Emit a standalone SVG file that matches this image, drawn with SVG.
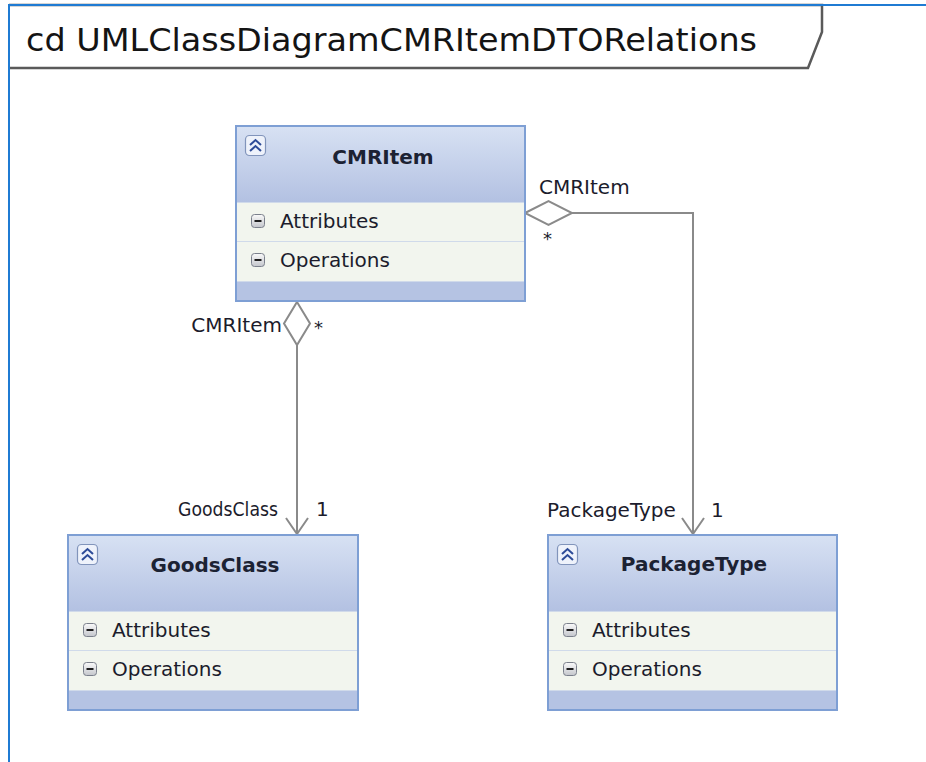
<svg xmlns="http://www.w3.org/2000/svg" width="926" height="762" viewBox="0 0 926 762">
  <defs>
    <linearGradient id="hdr" x1="0" y1="0" x2="0" y2="1">
      <stop offset="0" stop-color="#d7e1f3"/>
      <stop offset="1" stop-color="#b3c1e2"/>
    </linearGradient>
    <linearGradient id="btn" x1="0" y1="0" x2="0" y2="1">
      <stop offset="0" stop-color="#fafafa"/>
      <stop offset="1" stop-color="#c4c6cc"/>
    </linearGradient>
    <!-- class box: compartments, collapse button and section toggles -->
    <g id="classBody">
      <rect class="band" x="1" y="1" width="288" height="173"/>
      <rect class="head" x="1" y="1" width="288" height="75"/>
      <rect class="rows" x="1" y="76" width="288" height="79"/>
      <line class="sep" x1="1" y1="76.5" x2="289" y2="76.5"/>
      <line class="sep" x1="1" y1="115.5" x2="289" y2="115.5"/>
      <line class="sep" x1="1" y1="155.5" x2="289" y2="155.5"/>
      <rect class="collapse" x="9.5" y="9.5" width="20" height="20" rx="4"/>
      <polyline class="chev" points="14,19 19.5,14 25,19"/>
      <polyline class="chev" points="14,25 19.5,20 25,25"/>
      <rect class="toggle" x="15.5" y="88.5" width="13" height="13" rx="3"/>
      <line class="minus" x1="18.5" y1="95" x2="25.5" y2="95"/>
      <rect class="toggle" x="15.5" y="127.5" width="13" height="13" rx="3"/>
      <line class="minus" x1="18.5" y1="134" x2="25.5" y2="134"/>
      <text class="sect" x="44" y="102">Attributes</text>
      <text class="sect" x="44" y="141">Operations</text>
    </g>
  </defs>
  <style>
    .frame { fill: none; stroke: #1f7bd3; stroke-width: 2; }
    .tab { fill: #ffffff; stroke: #5a5a5a; stroke-width: 2.5; }
    .title { font-family: "DejaVu Sans", "Liberation Sans", sans-serif; font-size: 32px; fill: #141414; }
    .outline { fill: none; stroke: #7e9fd4; stroke-width: 2; }
    .band { fill: #b5c3e3; }
    .head { fill: url(#hdr); }
    .rows { fill: #f2f5ee; }
    .sep { stroke: #d0daea; stroke-width: 1; }
    .collapse { fill: #eef2fb; stroke: #8194bb; stroke-width: 1.2; }
    .chev { fill: none; stroke: #2d4b98; stroke-width: 2; }
    .toggle { fill: url(#btn); stroke: #7b808c; stroke-width: 1; }
    .minus { stroke: #1e1e1e; stroke-width: 2; }
    .sect { font-family: "DejaVu Sans", "Liberation Sans", sans-serif; font-size: 20px; fill: #1c1c2c; }
    .cname { font-family: "DejaVu Sans", "Liberation Sans", sans-serif; font-size: 20px; font-weight: bold; fill: #1c2233; text-anchor: middle; }
    .edge { fill: none; stroke: #8a8a8a; stroke-width: 2; }
    .diamond { fill: #ffffff; stroke: #8a8a8a; stroke-width: 2; }
    .lbl { font-family: "DejaVu Sans", "Liberation Sans", sans-serif; font-size: 20px; fill: #1c1c2c; }
    .mult { font-family: "DejaVu Sans", "Liberation Sans", sans-serif; font-size: 18px; fill: #1c1c2c; }
  </style>

  <rect x="0" y="0" width="926" height="762" fill="#ffffff"/>

  <!-- diagram frame and name tab -->
  <g id="frame">
    <path class="tab" d="M9,5 H822 V32 L808,68 H9"/>
    <path class="frame" d="M926,5 H9 V762"/>
    <text class="title" x="26" y="51" textLength="731" lengthAdjust="spacingAndGlyphs">cd UMLClassDiagramCMRItemDTORelations</text>
  </g>

  <!-- connectors -->
  <g id="connectors">
    <!-- CMRItem to GoodsClass -->
    <path class="edge" d="M297,345 V534"/>
    <polygon class="diamond" points="297,302 310,323.5 297,345 284,323.5"/>
    <polyline class="edge" points="286,518 297,534 308,518"/>
    <text class="lbl" x="282" y="332" text-anchor="end">CMRItem</text>
    <text class="mult" x="314" y="334">*</text>
    <text class="lbl" x="178" y="516" textLength="100" lengthAdjust="spacingAndGlyphs">GoodsClass</text>
    <text class="lbl" x="316" y="516">1</text>

    <!-- CMRItem to PackageType -->
    <path class="edge" d="M572,213 H693 V534"/>
    <polygon class="diamond" points="525,213 548.5,201 572,213 548.5,225"/>
    <polyline class="edge" points="682,518 693,534 704,518"/>
    <text class="lbl" x="539" y="194">CMRItem</text>
    <text class="mult" x="543" y="245">*</text>
    <text class="lbl" x="547" y="517">PackageType</text>
    <text class="lbl" x="711" y="517">1</text>
  </g>

  <!-- classes -->
  <g id="CMRItem" transform="translate(236,126)">
    <use href="#classBody"/>
    <rect class="outline" x="0" y="0" width="289" height="175"/>
    <text class="cname" x="147" y="38">CMRItem</text>
  </g>

  <g id="GoodsClass" transform="translate(68,535)">
    <use href="#classBody"/>
    <rect class="outline" x="0" y="0" width="290" height="175"/>
    <text class="cname" x="147" y="37">GoodsClass</text>
  </g>

  <g id="PackageType" transform="translate(548,535)">
    <use href="#classBody"/>
    <rect class="outline" x="0" y="0" width="289" height="175"/>
    <text class="cname" x="146" y="36">PackageType</text>
  </g>
</svg>
